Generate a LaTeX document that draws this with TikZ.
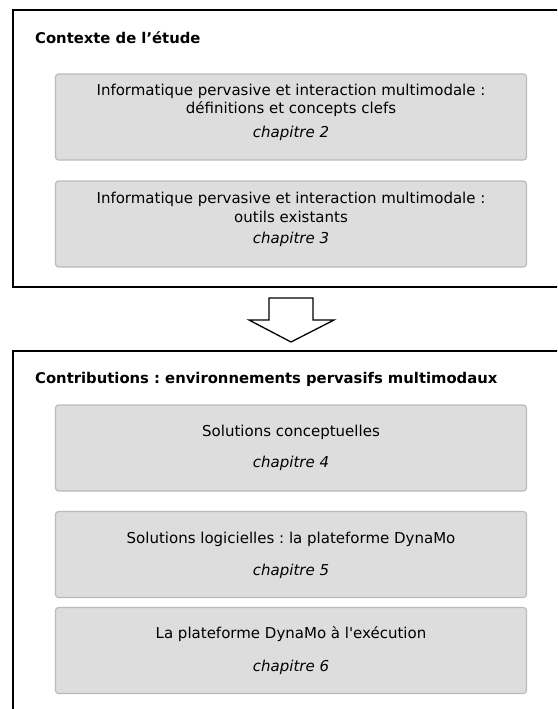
\documentclass[tikz,border=0pt]{standalone}
\usepackage{fontspec}
\setmainfont{DejaVu Sans}[Ligatures=TeXOff]
\usetikzlibrary{positioning}

\definecolor{boxfill}{HTML}{DDDDDD}
\definecolor{boxline}{HTML}{BBBBBB}

\tikzset{
    frame/.style = {draw = black, line width = 1.5pt},
    chapbox/.style = {draw = boxline, fill = boxfill, line width = 1.2pt, rounded corners = 3pt,
                      minimum width = 471pt, minimum height = 86pt, inner sep = 0pt},
    boxtext/.style = {align = center, font = \fontsize{15}{18.6}\selectfont, inner sep = 0pt},
    chaptext/.style = {font = \fontsize{15}{18}\selectfont\itshape, inner sep = 0pt},
    frametitle/.style = {anchor = west, font = \fontsize{14.8}{18}\selectfont\bfseries, inner sep = 0pt}
}

\begin{document}
\frenchspacing
\begin{tikzpicture}[x = 1pt, y = -1pt]
    \useasboundingbox (0, 0) rectangle (557, 709);
    \clip (0, 0) rectangle (557, 709);

    % the two frames
    \draw[frame] (13, 10) rectangle (570, 287);
    \draw[frame] (13, 351) rectangle (570, 720);

    \node[frametitle] (ctx) at (35, 38) {Contexte de l’étude};
    \node[frametitle] (contrib) at (35, 379) {Contributions : environnements pervasifs multimodaux};

    % chapter boxes
    \foreach \name/\y in {b2/117, b3/224, b4/448, b5/554.5, b6/650.5} {
        \node[chapbox] (\name) at (291, \y) {};
    }

    \node[boxtext] (t2) at (291, 100.5) {Informatique pervasive et interaction multimodale :\\définitions et concepts clefs};
    \node[chaptext] (c2) at (291, 133.5) {chapitre 2};

    \node[boxtext] (t3) at (291, 207.5) {Informatique pervasive et interaction multimodale :\\outils existants};
    \node[chaptext] (c3) at (291, 239.5) {chapitre 3};

    \node[boxtext] (t4) at (291, 432) {Solutions conceptuelles};
    \node[chaptext] (c4) at (291, 463.5) {chapitre 4};

    \node[boxtext] (t5) at (291, 539) {Solutions logicielles : la plateforme DynaMo};
    \node[chaptext] (c5) at (291, 571) {chapitre 5};

    \node[boxtext] (t6) at (291, 634.5) {La plateforme DynaMo à l'exécution};
    \node[chaptext] (c6) at (291, 667) {chapitre 6};

    % block arrow between the frames
    \draw[line width = 1.3pt, line join = miter, fill = white]
        (269, 298) -- (313, 298) -- (313, 320) -- (334, 320) -- (291, 342)
        -- (249, 320) -- (269, 320) -- cycle;
\end{tikzpicture}
\end{document}
